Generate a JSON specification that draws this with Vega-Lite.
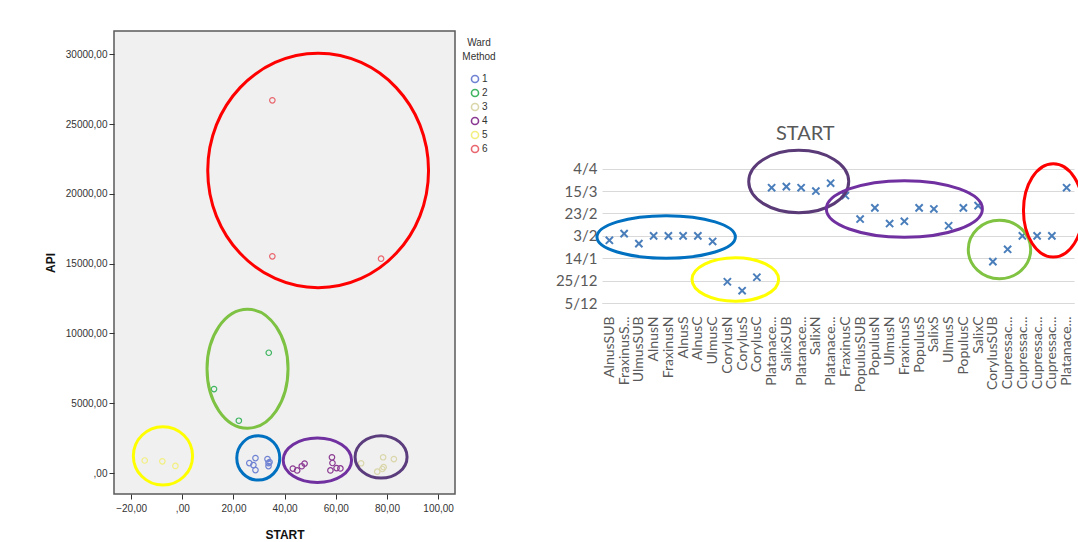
{
  "$schema": "https://vega.github.io/schema/vega-lite/v6.json",
  "background": "white",
  "padding": {"left": 43, "top": 30, "right": 0, "bottom": 0},
  "spacing": 51,
  "config": {"view": {"stroke": null}},
  "resolve": {
    "scale": {"x": "independent", "y": "independent", "color": "independent", "shape": "independent", "stroke": "independent"},
    "legend": {"color": "independent", "shape": "independent", "stroke": "independent"}
  },
  "hconcat": [
    {
      "width": 341,
      "height": 463,
      "view": {"fill": "#f0f0f0", "stroke": "#5a5a5a", "strokeWidth": 1.5},
      "layer": [
        {
          "data": {"values": [
            {"START": 26.2, "API": 714, "ward": "1"},
            {"START": 28.6, "API": 1071, "ward": "1"},
            {"START": 28.6, "API": 214, "ward": "1"},
            {"START": 27.8, "API": 571, "ward": "1"},
            {"START": 33.3, "API": 1000, "ward": "1"},
            {"START": 33.7, "API": 714, "ward": "1"},
            {"START": 33.7, "API": 500, "ward": "1"},
            {"START": 34.1, "API": 786, "ward": "1"},
            {"START": 33.8, "API": 8617, "ward": "2"},
            {"START": 12.4, "API": 6015, "ward": "2"},
            {"START": 22.1, "API": 3748, "ward": "2"},
            {"START": 69.9, "API": 700, "ward": "3"},
            {"START": 78.5, "API": 1130, "ward": "3"},
            {"START": 82.7, "API": 1000, "ward": "3"},
            {"START": 76.2, "API": 100, "ward": "3"},
            {"START": 78.2, "API": 290, "ward": "3"},
            {"START": 78.7, "API": 420, "ward": "3"},
            {"START": 43.2, "API": 320, "ward": "4"},
            {"START": 44.9, "API": 190, "ward": "4"},
            {"START": 46.7, "API": 490, "ward": "4"},
            {"START": 47.8, "API": 680, "ward": "4"},
            {"START": 58.5, "API": 1130, "ward": "4"},
            {"START": 58.7, "API": 720, "ward": "4"},
            {"START": 57.9, "API": 190, "ward": "4"},
            {"START": 60.3, "API": 357, "ward": "4"},
            {"START": 61.8, "API": 330, "ward": "4"},
            {"START": -14.7, "API": 900, "ward": "5"},
            {"START": -7.8, "API": 840, "ward": "5"},
            {"START": -2.7, "API": 510, "ward": "5"},
            {"START": 35.2, "API": 26700, "ward": "6"},
            {"START": 35.2, "API": 15524, "ward": "6"},
            {"START": 77.7, "API": 15357, "ward": "6"}
          ]},
          "mark": {"type": "point", "shape": "circle", "filled": false, "size": 30, "strokeWidth": 1.2, "opacity": 1},
          "encoding": {
            "x": {
              "field": "START", "type": "quantitative",
              "scale": {"domain": [-26.7, 106.6], "nice": false, "zero": false},
              "axis": {
                "values": [-20, 0, 20, 40, 60, 80, 100],
                "labelExpr": "datum.value == 0 ? ',00' : replace(format(datum.value, '.2f'), '.', ',')",
                "grid": false, "domain": false, "ticks": true, "tickSize": 5, "tickColor": "#333",
                "labelFont": "Liberation Sans", "labelFontSize": 10, "labelColor": "#333", "labelPadding": 4,
                "title": "START", "titleFont": "Liberation Sans", "titleFontSize": 12, "titleFontWeight": "bold", "titleColor": "#111", "titlePadding": 16
              }
            },
            "y": {
              "field": "API", "type": "quantitative",
              "scale": {"domain": [-1500, 31664], "nice": false, "zero": false},
              "axis": {
                "values": [0, 5000, 10000, 15000, 20000, 25000, 30000],
                "labelExpr": "datum.value == 0 ? ',00' : replace(format(datum.value, '.2f'), '.', ',')",
                "grid": false, "domain": false, "ticks": true, "tickSize": 5, "tickColor": "#333",
                "labelFont": "Liberation Sans", "labelFontSize": 10, "labelColor": "#333", "labelPadding": 2,
                "title": "API", "titleFont": "Liberation Sans", "titleFontSize": 12, "titleFontWeight": "bold", "titleColor": "#111", "titlePadding": 8
              }
            },
            "color": {
              "field": "ward", "type": "nominal",
              "scale": {"domain": ["1", "2", "3", "4", "5", "6"], "range": ["#6f82d3", "#3fb561", "#dad6aa", "#8b3a93", "#f2ef80", "#e9676f"]},
              "legend": {
                "title": ["Ward", "Method"], "orient": "right", "offset": 0, "padding": 7,
                "titleFont": "Liberation Sans", "titleFontSize": 10, "titleFontWeight": "normal", "titleColor": "#333", "titleAlign": "center", "titleAnchor": "middle", "titlePadding": 12, "titleLineHeight": 14,
                "labelFont": "Liberation Sans", "labelFontSize": 10, "labelColor": "#333", "labelOffset": 2,
                "symbolType": "circle", "symbolSize": 50, "symbolStrokeWidth": 1.6, "rowPadding": 0
              }
            }
          }
        },
        {
          "data": {"values": [
            {"START": 53.1, "API": 21674, "ring": "red"},
            {"START": 25.5, "API": 7471, "ring": "green"},
            {"START": -7.56, "API": 1229, "ring": "yellow"},
            {"START": 29.7, "API": 1086, "ring": "blue"},
            {"START": 52.8, "API": 919, "ring": "purple"},
            {"START": 77.7, "API": 1158, "ring": "darkpurple"}
          ]},
          "mark": {"type": "point", "filled": false, "size": 4, "strokeWidth": 3, "opacity": 1},
          "encoding": {
            "x": {"field": "START", "type": "quantitative"},
            "y": {"field": "API", "type": "quantitative"},
            "shape": {
              "field": "ring", "type": "nominal", "legend": null,
              "scale": {
                "domain": ["red", "green", "yellow", "blue", "purple", "darkpurple"],
                "range": [
                  "M -110.4 0 A 110.4 117.2 0 1 1 110.4 0 A 110.4 117.2 0 1 1 -110.4 0 Z",
                  "M -40.5 0 A 40.5 59.5 0 1 1 40.5 0 A 40.5 59.5 0 1 1 -40.5 0 Z",
                  "M -29.6 0 A 29.6 29.2 0 1 1 29.6 0 A 29.6 29.2 0 1 1 -29.6 0 Z",
                  "M -21.5 0 A 21.5 22.2 0 1 1 21.5 0 A 21.5 22.2 0 1 1 -21.5 0 Z",
                  "M -34.2 0 A 34.2 22.2 0 1 1 34.2 0 A 34.2 22.2 0 1 1 -34.2 0 Z",
                  "M -26 0 A 26 21.2 0 1 1 26 0 A 26 21.2 0 1 1 -26 0 Z"
                ]
              }
            },
            "stroke": {
              "field": "ring", "type": "nominal", "legend": null,
              "scale": {
                "domain": ["red", "green", "yellow", "blue", "purple", "darkpurple"],
                "range": ["#ff0000", "#7dc242", "#ffff00", "#0070c0", "#7030a0", "#5b3c7d"]
              }
            }
          }
        }
      ]
    },
    {
      "width": 472,
      "height": 272,
      "title": {"text": "START", "offset": -113, "dx": -17, "font": "Lato", "fontSize": 20, "fontWeight": "normal", "color": "#595959", "anchor": "middle", "frame": "bounds"},
      "layer": [
        {
          "data": {"values": [
            {"taxon": "AlnusSUB", "START": "2015-01-30"},
            {"taxon": "FraxinusSUB", "START": "2015-02-05"},
            {"taxon": "UlmusSUB", "START": "2015-01-27"},
            {"taxon": "AlnusN", "START": "2015-02-03"},
            {"taxon": "FraxinusN", "START": "2015-02-03"},
            {"taxon": "AlnusS", "START": "2015-02-03"},
            {"taxon": "AlnusC", "START": "2015-02-03"},
            {"taxon": "UlmusC", "START": "2015-01-29"},
            {"taxon": "CorylusN", "START": "2014-12-24"},
            {"taxon": "CorylusS", "START": "2014-12-16"},
            {"taxon": "CorylusC", "START": "2014-12-28"},
            {"taxon": "PlatanaceaeSUB", "START": "2015-03-18"},
            {"taxon": "SalixSUB", "START": "2015-03-19"},
            {"taxon": "PlatanaceaeN", "START": "2015-03-18"},
            {"taxon": "SalixN", "START": "2015-03-15"},
            {"taxon": "PlatanaceaeS", "START": "2015-03-22"},
            {"taxon": "FraxinusC", "START": "2015-03-11"},
            {"taxon": "PopulusSUB", "START": "2015-02-18"},
            {"taxon": "PopulusN", "START": "2015-02-28"},
            {"taxon": "UlmusN", "START": "2015-02-14"},
            {"taxon": "FraxinusS", "START": "2015-02-16"},
            {"taxon": "PopulusS", "START": "2015-02-28"},
            {"taxon": "SalixS", "START": "2015-02-27"},
            {"taxon": "UlmusS", "START": "2015-02-12"},
            {"taxon": "PopulusC", "START": "2015-02-28"},
            {"taxon": "SalixC", "START": "2015-03-02"},
            {"taxon": "CorylusSUB", "START": "2015-01-11"},
            {"taxon": "CupressaceaeSUB", "START": "2015-01-22"},
            {"taxon": "CupressaceaeN", "START": "2015-02-03"},
            {"taxon": "CupressaceaeS", "START": "2015-02-03"},
            {"taxon": "CupressaceaeC", "START": "2015-02-03"},
            {"taxon": "PlatanaceaeC", "START": "2015-03-18"}
          ]},
          "mark": {"type": "point", "shape": "M -3.6 -3.6 L 3.6 3.6 M -3.6 3.6 L 3.6 -3.6", "size": 4, "filled": false, "strokeWidth": 2, "color": "#4a7ebb", "opacity": 1},
          "encoding": {
            "x": {
              "field": "taxon", "type": "nominal", "sort": null,
              "scale": {"paddingInner": 0, "paddingOuter": 0},
              "axis": {
                "labelAngle": -90,
                "labelExpr": "length(datum.value) > 10 ? substring(datum.value, 0, 9) + '...' : datum.value",
                "labelFont": "Lato", "labelFontSize": 14, "labelColor": "#595959", "labelPadding": 13,
                "ticks": false, "domain": true, "domainColor": "#d9d9d9", "title": null, "labelOverlap": false
              }
            },
            "y": {
              "field": "START", "type": "temporal",
              "scale": {"type": "utc", "domain": [{"year": 2014, "month": 12, "date": 5, "utc": true}, {"year": 2015, "month": 8, "date": 5, "utc": true}]},
              "axis": {
                "values": [
                  {"year": 2014, "month": 12, "date": 5, "utc": true},
                  {"year": 2014, "month": 12, "date": 25, "utc": true},
                  {"year": 2015, "month": 1, "date": 14, "utc": true},
                  {"year": 2015, "month": 2, "date": 3, "utc": true},
                  {"year": 2015, "month": 2, "date": 23, "utc": true},
                  {"year": 2015, "month": 3, "date": 15, "utc": true},
                  {"year": 2015, "month": 4, "date": 4, "utc": true}
                ],
                "format": "%-d/%-m",
                "grid": true, "gridColor": "#d9d9d9", "domain": false, "ticks": false,
                "labelFont": "Lato", "labelFontSize": 15, "labelColor": "#595959", "labelPadding": 5, "title": null
              }
            }
          }
        },
        {
          "data": {"values": [
            {"taxon": "FraxinusN", "START": "2015-02-02", "ring": "blue"},
            {"taxon": "CorylusS", "START": "2014-12-26", "ring": "yellow"},
            {"taxon": "PlatanaceaeN", "START": "2015-03-23T12:00:00Z", "ring": "darkpurple"},
            {"taxon": "FraxinusS", "START": "2015-02-27", "ring": "purple"},
            {"taxon": "CorylusSUB", "START": "2015-01-21T19:00:00Z", "ring": "green"},
            {"taxon": "CupressaceaeC", "START": "2015-02-25T17:00:00Z", "ring": "red"}
          ]},
          "mark": {"type": "point", "filled": false, "size": 4, "strokeWidth": 3, "opacity": 1},
          "encoding": {
            "x": {"field": "taxon", "type": "nominal", "sort": null},
            "y": {"field": "START", "type": "temporal"},
            "shape": {
              "field": "ring", "type": "nominal", "legend": null,
              "scale": {
                "domain": ["blue", "yellow", "darkpurple", "purple", "green", "red"],
                "range": [
                  "M -71.4 0 A 69.2 21.3 0 1 1 67 0 A 69.2 21.3 0 1 1 -71.4 0 Z",
                  "M -50.1 0 A 43.3 21.7 0 1 1 36.5 0 A 43.3 21.7 0 1 1 -50.1 0 Z",
                  "M -52.4 0 A 50 31.2 0 1 1 47.6 0 A 50 31.2 0 1 1 -52.4 0 Z",
                  "M -78 0 A 78 28.3 0 1 1 78 0 A 78 28.3 0 1 1 -78 0 Z",
                  "M -24.6 0 A 31.2 29.2 0 1 1 37.8 0 A 31.2 29.2 0 1 1 -24.6 0 Z",
                  "M -28.4 0 A 29.8 46.7 0 1 1 31.2 0 A 29.8 46.7 0 1 1 -28.4 0 Z"
                ]
              }
            },
            "stroke": {
              "field": "ring", "type": "nominal", "legend": null,
              "scale": {
                "domain": ["blue", "yellow", "darkpurple", "purple", "green", "red"],
                "range": ["#0070c0", "#ffff00", "#5b3a78", "#7030a0", "#80c342", "#ff0000"]
              }
            }
          }
        }
      ]
    }
  ]
}
